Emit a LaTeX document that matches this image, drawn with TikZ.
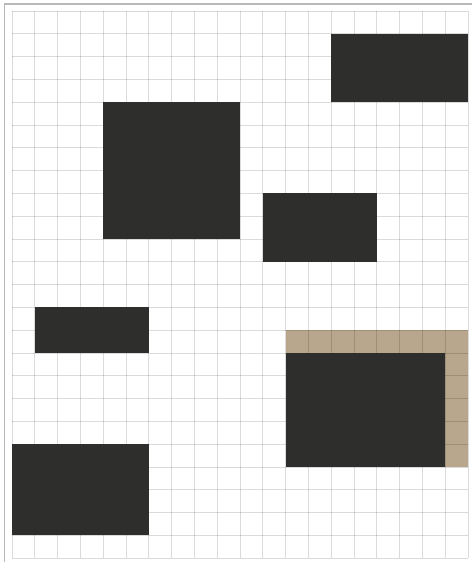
\documentclass[tikz,border=0pt]{standalone}
\begin{document}
\begin{tikzpicture}[x=22.8pt,y=-22.8pt,
  gridline/.style={draw=black,draw opacity=0.14,line width=0.9pt},
  frameline/.style={draw=black!28,line width=1.2pt},
  darkbox/.style={fill={rgb,255:red,46;green,46;blue,44}},
  tanbox/.style={fill={rgb,255:red,184;green,167;blue,140}}]
\useasboundingbox (-0.5263,-0.4825) rectangle (20.1754,24.1667);
\fill[white] (-0.5263,-0.4825) rectangle (20.1754,24.1667);
% tan L-shaped region (under the dark box)
\path[tanbox] (12,14) rectangle (20,20);
% grid
\foreach \i in {0,...,20} \draw[gridline] (\i,0) -- (\i,24);
\foreach \j in {0,...,24} \draw[gridline] (0,\j) -- (20,\j);
% outer frame lines (top and left)
\draw[frameline] (-0.33,24.1667) -- (-0.33,-0.31) -- (20.1754,-0.31);
% dark boxes
\path[darkbox] (14,1) rectangle (20,4);
\path[darkbox] (4,4) rectangle (10,10);
\path[darkbox] (11,8) rectangle (16,11);
\path[darkbox] (1,13) rectangle (6,15);
\path[darkbox] (12,15) rectangle (19,20);
\path[darkbox] (0,19) rectangle (6,23);
\end{tikzpicture}
\end{document}
